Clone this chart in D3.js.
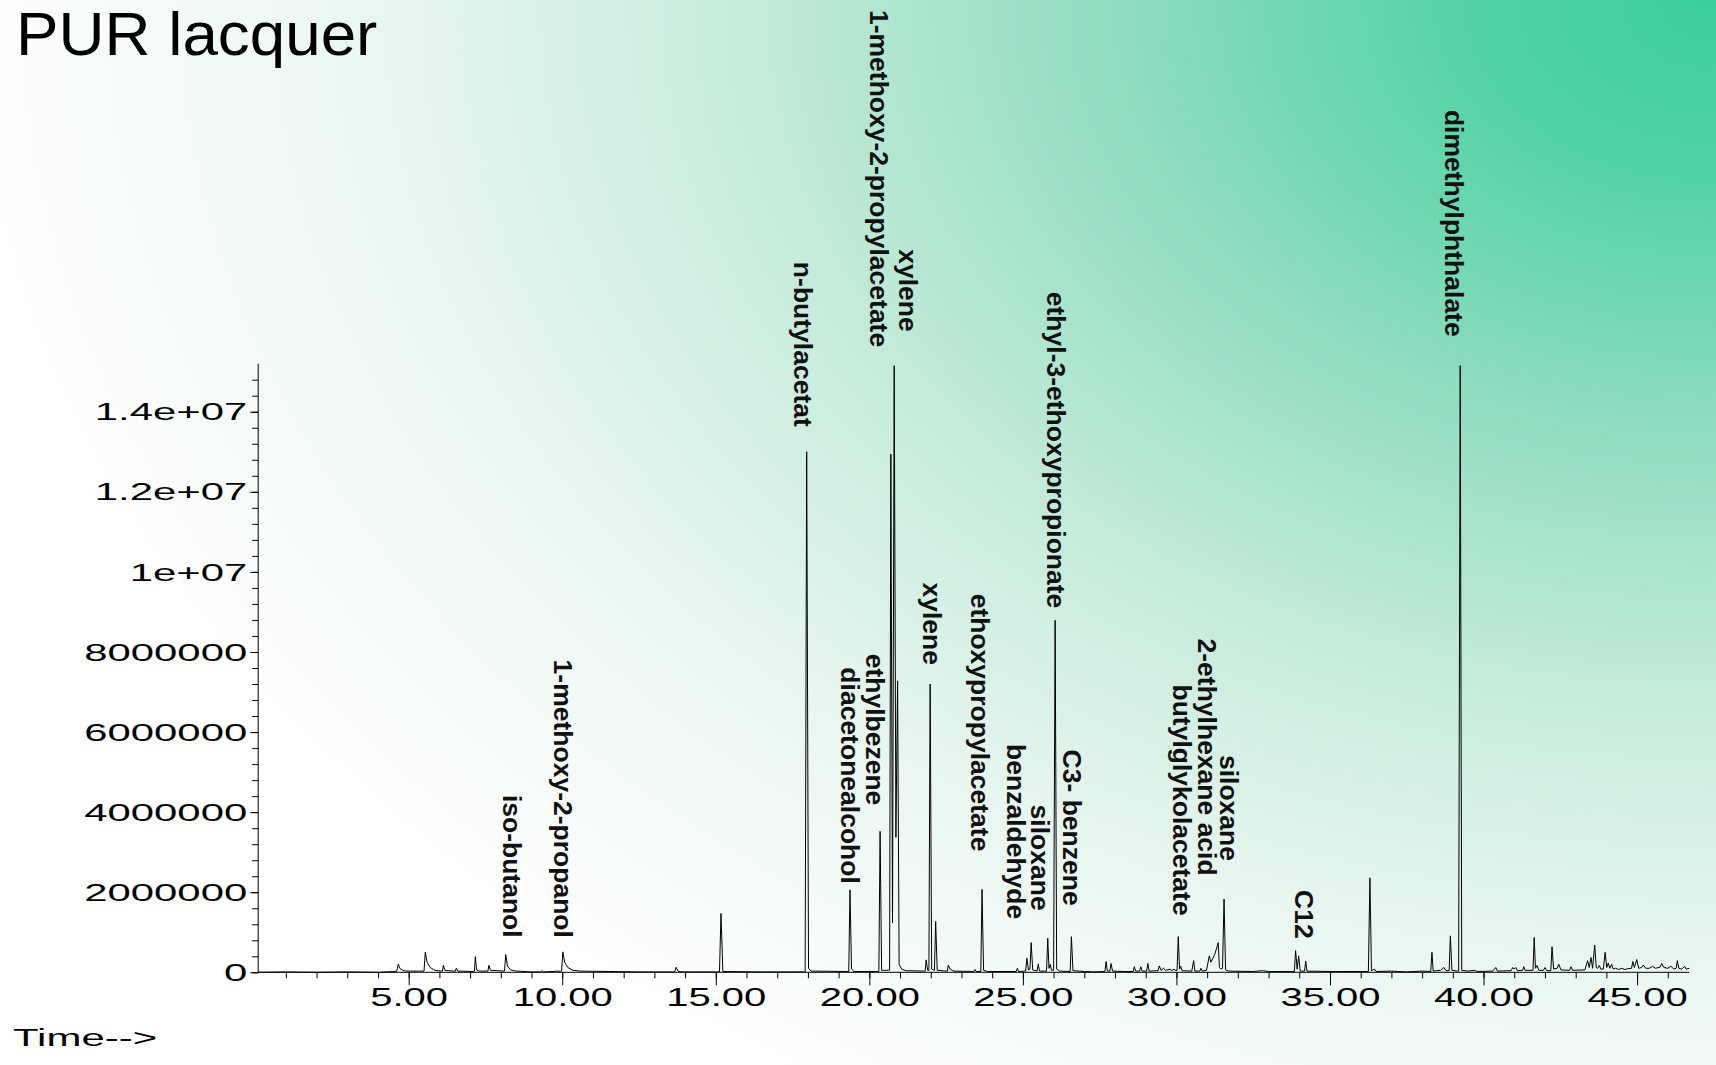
<!DOCTYPE html>
<html>
<head>
<meta charset="utf-8">
<script src="https://cdn.jsdelivr.net/npm/d3@7"></script>
<style>
  html, body { margin: 0; padding: 0; background: #fff; }
  svg { display: block; }
</style>
</head>
<body>
<svg id="chart" width="1716" height="1065"></svg>
<script>
// ---- data -------------------------------------------------------------
const yTickValues = [0, 2e6, 4e6, 6e6, 8e6, 1e7, 1.2e7, 1.4e7];
const yTickLabels = ["0", "2000000", "4000000", "6000000", "8000000", "1e+07", "1.2e+07", "1.4e+07"];
const xTickValues = [5, 10, 15, 20, 25, 30, 35, 40, 45];
const xTickLabels = ["5.00", "10.00", "15.00", "20.00", "25.00", "30.00", "35.00", "40.00", "45.00"];

// annotated compounds: name, retention time (min) and abundance of the labelled peak
const labelNames = [
  "iso-butanol", "1-methoxy-2-propanol", "n-butylacetat", "diacetonealcohol",
  "ethylbezene", "1-methoxy-2-propylacetate", "xylene", "xylene",
  "ethoxypropylacetate", "benzaldehyde", "siloxane", "ethyl-3-ethoxypropionate",
  "C3- benzene", "butylglykolacetate", "2-ethylhexane acid", "siloxane",
  "C12", "dimethylphthalate"
];
const labelTimes = [8.16, 10.02, 17.96, 19.37, 20.35, 20.70, 20.81, 21.98,
  23.67, 25.13, 25.27, 26.05, 26.58, 30.06, 31.36, 31.55, 33.88, 39.24];
const labelAbundances = [0.44e6, 0.51e6, 13.0e6, 2.06e6, 3.52e6, 12.94e6, 15.15e6, 7.2e6,
  2.07e6, 0.35e6, 0.74e6, 8.79e6, 0.89e6, 0.89e6, 0.74e6, 1.83e6, 0.54e6, 15.15e6];

// total ion chromatogram: [time (min), abundance]
const trace = [
  [0.1, 0], [1.0, 0.01e6], [2.0, 0], [3.0, 0.01e6], [4.0, 0], [4.55, 0.02e6],
  [4.61, 0.02e6], [4.66, 0.20e6], [4.72, 0.09e6], [4.80, 0.05e6], [4.9, 0.03e6], [5.3, 0.03e6],
  [5.50, 0.03e6], [5.54, 0.50e6], [5.60, 0.25e6], [5.70, 0.12e6], [5.85, 0.05e6], [6.05, 0.03e6],
  [6.10, 0.03e6], [6.13, 0.175e6], [6.18, 0.05e6], [6.45, 0.03e6],
  [6.52, 0.03e6], [6.55, 0.10e6], [6.60, 0.03e6], [7.12, 0.02e6],
  [7.14, 0.02e6], [7.17, 0.39e6], [7.21, 0.06e6], [7.3, 0.03e6], [7.55, 0.03e6],
  [7.58, 0.03e6], [7.61, 0.175e6], [7.66, 0.05e6], [8.1, 0.03e6],
  [8.12, 0.03e6], [8.16, 0.44e6], [8.22, 0.15e6], [8.32, 0.06e6], [8.5, 0.03e6], [9.0, 0.01e6],
  [9.3, 0.01e6], [9.35, 0.04e6], [9.4, 0.01e6], [9.7, 0.02e6], [9.85, 0.03e6], [9.95, 0.02e6],
  [9.98, 0.03e6], [10.02, 0.51e6], [10.08, 0.25e6], [10.18, 0.12e6], [10.35, 0.05e6], [10.6, 0.03e6],
  [11.5, 0.02e6], [12.5, 0.01e6], [13.6, 0.01e6],
  [13.66, 0.01e6], [13.71, 0.125e6], [13.77, 0.03e6], [13.9, 0.01e6], [15.1, 0.01e6],
  [15.12, 0.01e6], [15.17, 1.47e6], [15.23, 0.02e6], [16.5, 0.01e6], [17.9, 0.01e6],
  [17.91, 0.01e6], [17.96, 13.0e6], [18.02, 0.1e6], [18.1, 0.03e6], [19.3, 0.02e6],
  [19.33, 0.02e6], [19.37, 2.06e6], [19.42, 0.08e6], [19.5, 0.02e6], [20.3, 0.02e6],
  [20.31, 0.02e6], [20.35, 3.52e6], [20.40, 0.05e6], [20.62, 0.05e6],
  [20.66, 0.05e6], [20.70, 12.94e6], [20.755, 1.23e6], [20.81, 15.15e6], [20.865, 3.37e6],
  [20.92, 7.28e6], [20.97, 0.2e6], [21.05, 0.08e6], [21.2, 0.04e6], [21.8, 0.03e6],
  [21.82, 0.03e6], [21.85, 0.31e6], [21.90, 0.05e6],
  [21.94, 0.05e6], [21.98, 7.2e6], [22.03, 0.08e6], [22.12, 0.05e6],
  [22.16, 1.27e6], [22.21, 0.05e6], [22.5, 0.03e6],
  [22.54, 0.03e6], [22.57, 0.18e6], [22.63, 0.08e6], [22.75, 0.03e6], [23.4, 0.02e6],
  [23.44, 0.07e6], [23.48, 0.02e6],
  [23.63, 0.02e6], [23.67, 2.07e6], [23.72, 0.05e6], [23.85, 0.02e6], [24.78, 0.02e6],
  [24.82, 0.10e6], [24.86, 0.02e6], [25.09, 0.03e6],
  [25.13, 0.35e6], [25.18, 0.06e6], [25.23, 0.08e6], [25.27, 0.74e6], [25.32, 0.06e6],
  [25.46, 0.03e6], [25.50, 0.21e6], [25.54, 0.03e6], [25.77, 0.03e6], [25.81, 0.85e6],
  [25.85, 0.1e6], [25.89, 0.2e6], [25.93, 0.05e6], [26.0, 0.05e6],
  [26.05, 8.79e6], [26.10, 0.08e6], [26.2, 0.03e6], [26.54, 0.02e6],
  [26.58, 0.89e6], [26.63, 0.04e6], [27.0, 0.02e6], [27.3, 0.01e6], [27.67, 0.02e6],
  [27.71, 0.27e6], [27.75, 0.03e6], [27.83, 0.03e6], [27.87, 0.22e6], [27.92, 0.03e6],
  [28.3, 0.02e6], [28.59, 0.02e6], [28.63, 0.14e6], [28.67, 0.03e6], [28.8, 0.03e6],
  [28.84, 0.14e6], [28.88, 0.03e6], [29.03, 0.03e6], [29.07, 0.22e6], [29.11, 0.03e6],
  [29.4, 0.04e6], [29.44, 0.16e6], [29.5, 0.05e6], [29.58, 0.10e6], [29.65, 0.05e6],
  [29.8, 0.08e6], [29.85, 0.04e6], [29.92, 0.08e6], [29.98, 0.04e6], [30.02, 0.05e6],
  [30.06, 0.89e6], [30.10, 0.08e6], [30.14, 0.15e6], [30.18, 0.04e6], [30.5, 0.03e6],
  [30.56, 0.29e6], [30.6, 0.03e6], [30.76, 0.03e6], [30.80, 0.1e6], [30.84, 0.03e6], [30.98, 0.05e6],
  [31.07, 0.41e6], [31.12, 0.25e6], [31.25, 0.45e6], [31.36, 0.74e6], [31.40, 0.12e6],
  [31.45, 0.08e6], [31.50, 0.1e6],
  [31.55, 1.83e6], [31.60, 0.06e6], [31.7, 0.03e6], [32.5, 0.02e6], [32.8, 0.04e6],
  [33.0, 0.02e6], [33.84, 0.02e6],
  [33.88, 0.54e6], [33.93, 0.08e6], [33.98, 0.41e6], [34.03, 0.03e6], [34.17, 0.03e6],
  [34.21, 0.28e6], [34.25, 0.03e6], [35.0, 0.02e6], [36.25, 0.02e6],
  [36.30, 2.36e6], [36.35, 0.04e6], [36.45, 0.08e6], [36.5, 0.02e6], [37.0, 0.03e6],
  [37.5, 0.01e6], [38.0, 0.03e6], [38.28, 0.02e6],
  [38.32, 0.5e6], [38.36, 0.03e6], [38.6, 0.05e6], [38.71, 0.12e6], [38.78, 0.04e6], [38.88, 0.04e6],
  [38.92, 0.91e6], [38.97, 0.05e6], [39.15, 0.03e6],
  [39.19, 0.03e6], [39.24, 15.15e6], [39.29, 0.05e6], [39.5, 0.03e6], [39.7, 0.05e6],
  [39.8, 0.02e6], [40.3, 0.03e6], [40.40, 0.12e6], [40.45, 0.03e6], [40.9, 0.04e6],
  [40.95, 0.12e6], [41.0, 0.08e6], [41.05, 0.12e6], [41.1, 0.04e6], [41.27, 0.05e6],
  [41.31, 0.14e6], [41.35, 0.05e6], [41.61, 0.05e6],
  [41.65, 0.87e6], [41.69, 0.1e6], [41.74, 0.17e6], [41.8, 0.05e6], [41.95, 0.05e6],
  [42.0, 0.12e6], [42.06, 0.04e6], [42.19, 0.04e6],
  [42.23, 0.64e6], [42.28, 0.08e6], [42.4, 0.1e6], [42.45, 0.2e6], [42.52, 0.06e6],
  [42.8, 0.05e6], [42.85, 0.14e6], [42.9, 0.05e6], [43.3, 0.06e6], [43.39, 0.29e6],
  [43.44, 0.12e6], [43.50, 0.37e6], [43.55, 0.1e6], [43.62, 0.68e6], [43.67, 0.12e6],
  [43.72, 0.1e6], [43.77, 0.17e6], [43.82, 0.08e6], [43.9, 0.08e6], [43.96, 0.5e6],
  [44.01, 0.12e6], [44.06, 0.23e6], [44.11, 0.1e6], [44.17, 0.2e6], [44.22, 0.08e6],
  [44.3, 0.1e6], [44.4, 0.07e6], [44.5, 0.1e6], [44.6, 0.07e6], [44.7, 0.09e6], [44.82, 0.1e6],
  [44.86, 0.27e6], [44.91, 0.12e6], [44.99, 0.32e6], [45.05, 0.1e6], [45.15, 0.12e6],
  [45.2, 0.18e6], [45.28, 0.1e6], [45.4, 0.1e6], [45.5, 0.15e6], [45.6, 0.1e6],
  [45.75, 0.13e6], [45.8, 0.22e6], [45.87, 0.12e6], [46.0, 0.1e6], [46.1, 0.15e6],
  [46.2, 0.08e6], [46.27, 0.1e6], [46.31, 0.29e6], [46.36, 0.1e6], [46.45, 0.08e6],
  [46.55, 0.15e6], [46.6, 0.08e6], [46.7, 0.1e6]
];

// ---- layout -----------------------------------------------------------
const W = 1716, H = 1065;
const plot = { left: 258.2, right: 1689.3, top: 363.7, bottom: 972.3 };
// per-label nudge [dx, gap above the peak] in pixels
const labelNudge = [
  [7, 17], [0, 14], [-3, 25], [0, 6], [-5, 26], [-12, 107], [14, 34], [2, 19],
  [-2, 38], [-11, 39], [9, 32], [1, 12], [1, 31], [4, 21], [-11, 67], [5, 38],
  [9, 12], [-6, 29]
];
const sansFont = "'Liberation Sans', Arial, Helvetica, sans-serif";

const svg = d3.select("#chart");

// background wash
const defs = svg.append("defs");
const grad = defs.append("radialGradient")
  .attr("id", "wash")
  .attr("gradientUnits", "userSpaceOnUse")
  .attr("cx", W).attr("cy", 0).attr("r", 1760)
  .attr("gradientTransform", `translate(${W},0) scale(1,0.72) translate(${-W},0)`);
[
  [0, "#3acd9b"], [0.15, "#55d3a6"], [0.35, "#92ddc1"],
  [0.55, "#c4ebda"], [0.75, "#e8f6f0"], [1, "#ffffff"]
].forEach(([o, c]) => grad.append("stop").attr("offset", o).attr("stop-color", c));
svg.append("rect").attr("width", W).attr("height", H).attr("fill", "url(#wash)");

// title
svg.append("text")
  .attr("transform", "translate(16,55) scale(1.045,1)")
  .attr("font-family", sansFont)
  .attr("font-size", 61)
  .attr("fill", "#000")
  .text("PUR lacquer");

// scales
const x = d3.scaleLinear().domain([0.1, 46.7]).range([plot.left, plot.right]);
const y = d3.scaleLinear().domain([0, 15.2e6]).range([plot.bottom, plot.top]);

// x axis: minor ticks every minute, major ticks with labels
const gx = svg.append("g").attr("transform", `translate(0,${plot.bottom})`);
gx.append("g")
  .call(d3.axisBottom(x).tickValues(d3.range(1, 47)).tickSize(6).tickSizeOuter(0).tickFormat(""))
  .call(g => g.select(".domain").remove());
gx.append("g")
  .call(d3.axisBottom(x).tickValues(xTickValues).tickSize(13).tickSizeOuter(0)
    .tickFormat((d, i) => xTickLabels[i]))
  .call(g => g.select(".domain").attr("d", `M${plot.left},0H${plot.right}`))
  .call(g => g.selectAll("text")
    .attr("y", 0).attr("dy", null)
    .attr("transform", "translate(0,34) scale(1.6,1)")
    .attr("font-family", sansFont).attr("font-size", 25).attr("fill", "#000"));
gx.selectAll("line, path").attr("stroke", "#000").attr("stroke-width", 1);

// y axis: minor ticks every 400000, major ticks with labels
const gy = svg.append("g").attr("transform", `translate(${plot.left},0)`);
gy.append("g")
  .call(d3.axisLeft(y).tickValues(d3.range(0, 15.2e6, 0.4e6)).tickSize(6).tickSizeOuter(0).tickFormat(""))
  .call(g => g.select(".domain").remove());
gy.append("g")
  .call(d3.axisLeft(y).tickValues(yTickValues).tickSize(8).tickSizeOuter(0)
    .tickFormat((d, i) => yTickLabels[i]))
  .call(g => g.select(".domain").attr("d", `M0,${plot.bottom}V${plot.top}`))
  .call(g => g.selectAll("text")
    .attr("x", 0).attr("dy", null).attr("dominant-baseline", "central")
    .attr("transform", "translate(-11,0) scale(1.82,1)")
    .attr("font-family", sansFont).attr("font-size", 23).attr("fill", "#000"));
gy.selectAll("line, path").attr("stroke", "#000").attr("stroke-width", 1);

// axis caption
svg.append("text")
  .attr("transform", "translate(13,1046) scale(1.75,1)")
  .attr("font-family", sansFont).attr("font-size", 24).attr("fill", "#000")
  .text("Time-->");

// chromatogram trace
const line = d3.line().x(d => x(d[0])).y(d => y(d[1]));
svg.append("path")
  .datum(trace)
  .attr("d", line)
  .attr("fill", "none")
  .attr("stroke", "#000")
  .attr("stroke-width", 1)
  .attr("stroke-linejoin", "miter");

// peak annotations, rotated to read downwards, ending just above each peak
svg.append("g").selectAll("text")
  .data(labelNames)
  .join("text")
  .attr("transform", (d, i) => {
    const px = x(labelTimes[i]) + labelNudge[i][0];
    const py = y(labelAbundances[i]) - labelNudge[i][1];
    return `translate(${px},${py}) rotate(90)`;
  })
  .attr("text-anchor", "end")
  .attr("dy", "0.35em")
  .attr("font-family", sansFont)
  .attr("font-weight", "bold")
  .attr("font-size", 26.5)
  .attr("fill", "#111")
  .text(d => d);
</script>
</body>
</html>
